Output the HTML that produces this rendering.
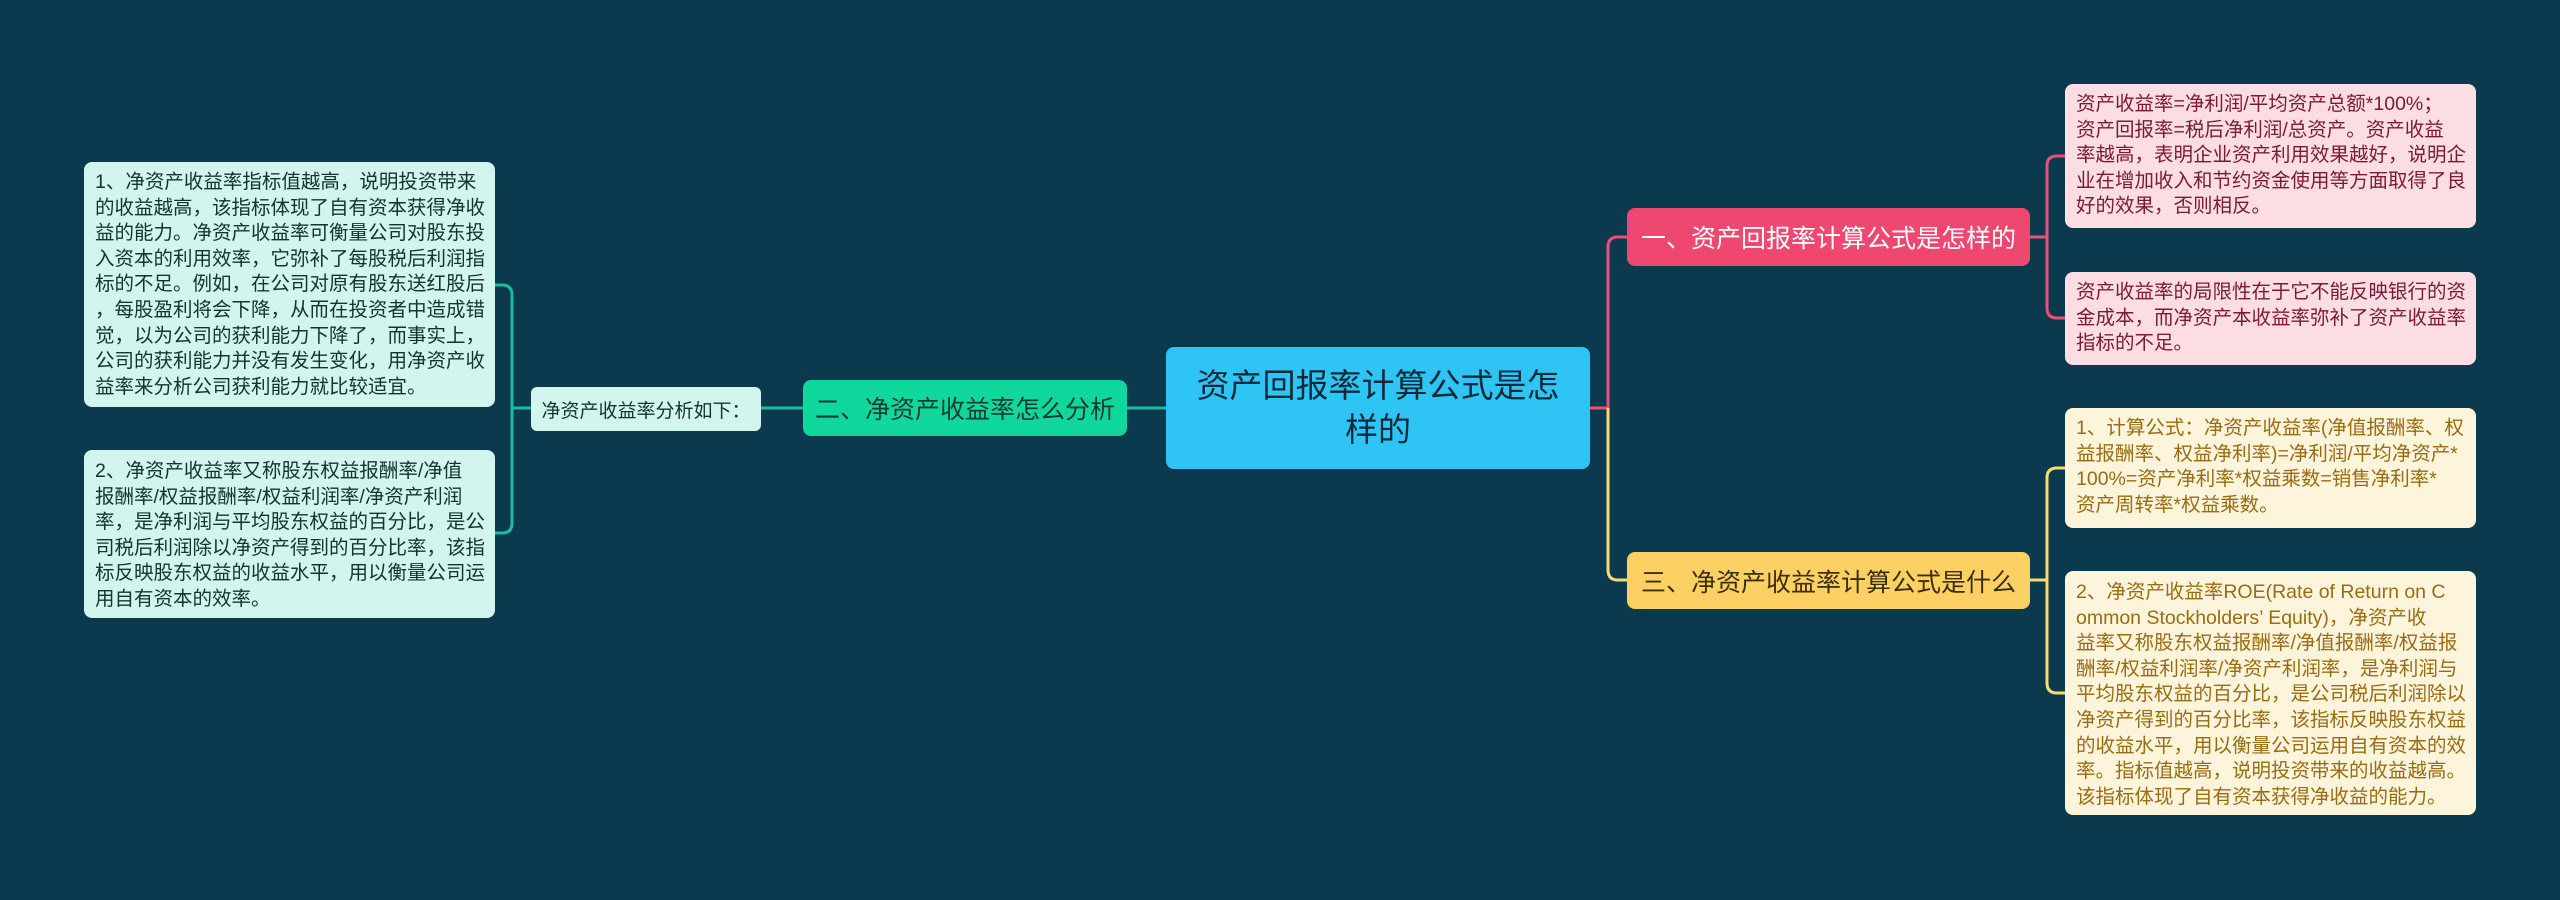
<!DOCTYPE html>
<html><head><meta charset="utf-8"><style>
body{margin:0;width:2560px;height:900px;background:#0b3a4e;position:relative;overflow:hidden;font-family:"Liberation Sans","Noto Sans CJK SC",sans-serif;}
.n{position:absolute;box-sizing:border-box;border-radius:8px;}
.t{font-size:19.5px;line-height:25.6px;padding:8px 0 0 11px;white-space:nowrap;}
.c{display:flex;align-items:center;justify-content:center;text-align:center;}
svg{position:absolute;left:0;top:0;}
</style></head><body>
<svg width="2560" height="900" fill="none" stroke-width="3">
<g stroke="#1abc9c">
<path d="M1166 408H1127M803 408H761M531 408H512"/>
<path d="M495 285H502Q512 285 512 295V523Q512 533 502 533H495"/>
</g>
<g stroke="#e8507a">
<path d="M1590 408H1608V247Q1608 237 1618 237H1627"/>
<path d="M2030 237H2047M2065 156H2057Q2047 156 2047 166V308Q2047 318 2057 318H2065"/>
</g>
<g stroke="#f7dc6f">
<path d="M1608 408V570Q1608 580 1618 580H1627"/>
<path d="M2030 580H2047M2065 468H2057Q2047 468 2047 478V683Q2047 693 2057 693H2065"/>
</g>
</svg>
<div class="n t" style="left:84px;top:162px;width:411px;height:245px;background:#d2f5ed;color:#16332c;">1、净资产收益率指标值越高，说明投资带来<br>的收益越高，该指标体现了自有资本获得净收<br>益的能力。净资产收益率可衡量公司对股东投<br>入资本的利用效率，它弥补了每股税后利润指<br>标的不足。例如，在公司对原有股东送红股后<br>，每股盈利将会下降，从而在投资者中造成错<br>觉，以为公司的获利能力下降了，而事实上，<br>公司的获利能力并没有发生变化，用净资产收<br>益率来分析公司获利能力就比较适宜。</div>
<div class="n t" style="left:84px;top:450px;width:411px;height:168px;background:#d2f5ed;color:#16332c;padding-top:9px;">2、净资产收益率又称股东权益报酬率/净值<br>报酬率/权益报酬率/权益利润率/净资产利润<br>率，是净利润与平均股东权益的百分比，是公<br>司税后利润除以净资产得到的百分比率，该指<br>标反映股东权益的收益水平，用以衡量公司运<br>用自有资本的效率。</div>
<div class="n c" style="left:531px;top:387px;width:230px;height:44px;background:#d2f5ed;color:#16332c;font-size:19px;border-radius:6px;">净资产收益率分析如下：</div>
<div class="n c" style="left:803px;top:380px;width:324px;height:56px;background:#10d89c;color:#0e3a36;font-size:25px;">二、净资产收益率怎么分析</div>
<div class="n c" style="left:1166px;top:347px;width:424px;height:122px;background:#2ec4f3;color:#0e2a3a;font-size:33px;line-height:44px;padding:0 20px;">资产回报率计算公式是怎样的</div>
<div class="n c" style="left:1627px;top:208px;width:403px;height:58px;background:#ee4870;color:#fff;font-size:25px;">一、资产回报率计算公式是怎样的</div>
<div class="n c" style="left:1627px;top:552px;width:403px;height:57px;background:#fcd063;color:#3a2e05;font-size:25px;">三、净资产收益率计算公式是什么</div>
<div class="n t" style="left:2065px;top:84px;width:411px;height:144px;background:#fbdde3;color:#7a1a38;">资产收益率=净利润/平均资产总额*100%；<br>资产回报率=税后净利润/总资产。资产收益<br>率越高，表明企业资产利用效果越好，说明企<br>业在增加收入和节约资金使用等方面取得了良<br>好的效果，否则相反。</div>
<div class="n t" style="left:2065px;top:272px;width:411px;height:93px;background:#fbdde3;color:#7a1a38;padding-top:8px;">资产收益率的局限性在于它不能反映银行的资<br>金成本，而净资产本收益率弥补了资产收益率<br>指标的不足。</div>
<div class="n t" style="left:2065px;top:408px;width:411px;height:120px;background:#fdf4dc;color:#9a6c12;">1、计算公式：净资产收益率(净值报酬率、权<br>益报酬率、权益净利率)=净利润/平均净资产*<br>100%=资产净利率*权益乘数=销售净利率*<br>资产周转率*权益乘数。</div>
<div class="n t" style="left:2065px;top:571px;width:411px;height:244px;background:#fdf4dc;color:#9a6c12;padding-top:9px;">2、净资产收益率ROE(Rate of Return on C<br>ommon Stockholders’ Equity)，净资产收<br>益率又称股东权益报酬率/净值报酬率/权益报<br>酬率/权益利润率/净资产利润率，是净利润与<br>平均股东权益的百分比，是公司税后利润除以<br>净资产得到的百分比率，该指标反映股东权益<br>的收益水平，用以衡量公司运用自有资本的效<br>率。指标值越高，说明投资带来的收益越高。<br>该指标体现了自有资本获得净收益的能力。</div>
</body></html>
